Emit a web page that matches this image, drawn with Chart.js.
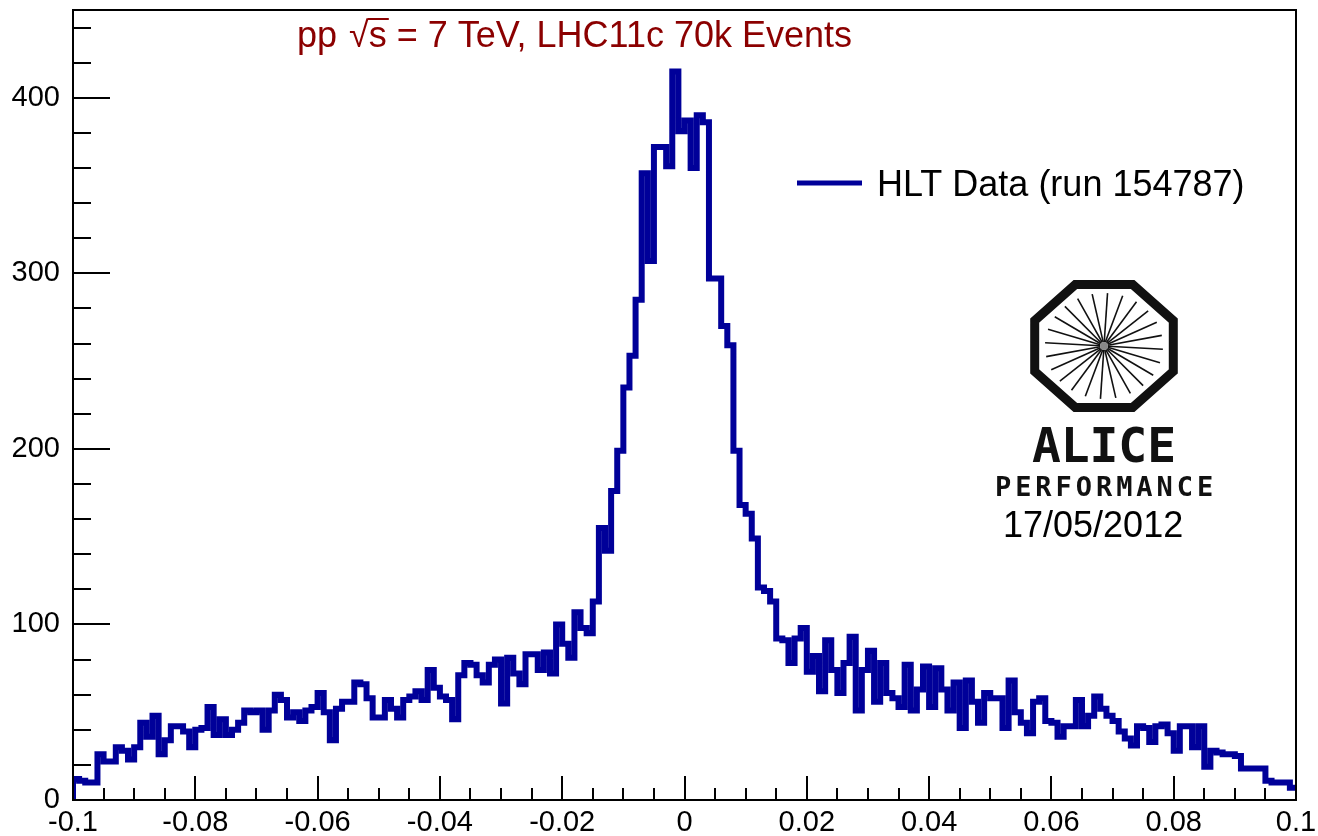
<!DOCTYPE html>
<html>
<head>
<meta charset="utf-8">
<script src="https://cdn.jsdelivr.net/npm/chart.js@4.4.1/dist/chart.umd.min.js"></script>
<style>
  html, body { margin: 0; padding: 0; background: #fff; }
  canvas { display: block; }
</style>
</head>
<body>
<canvas id="hltChart" width="1318" height="836"></canvas>
<script>
// histogram range, 200 bins of 0.001
var xRange = [-0.1, 0.1];
var yRange = [0, 450];

// entries per bin
var counts = [
  12, 11, 10, 10, 26, 22, 22, 30, 28, 23,
  30, 44, 36, 48, 26, 34, 42, 42, 39, 30,
  40, 41, 53, 37, 46, 37, 40, 44, 51, 50,
  51, 40, 51, 60, 57, 47, 50, 45, 51, 53,
  61, 50, 34, 52, 56, 56, 67, 66, 58, 47,
  47, 57, 52, 47, 57, 59, 62, 57, 74, 64,
  59, 57, 46, 71, 78, 77, 71, 67, 77, 80,
  55, 81, 72, 66, 83, 83, 74, 84, 72, 100,
  89, 81, 107, 98, 95, 113, 155, 142, 176, 199,
  235, 253, 285, 357, 307, 372, 372, 361, 415, 381,
  387, 360, 390, 386, 297, 297, 270, 259, 199, 168,
  163, 149, 121, 119, 113, 92, 91, 78, 92, 98,
  73, 82, 62, 91, 74, 61, 78, 93, 51, 74,
  85, 56, 78, 61, 58, 53, 77, 51, 63, 76,
  53, 75, 63, 51, 67, 41, 68, 56, 44, 61,
  58, 58, 41, 68, 50, 44, 38, 56, 58, 45,
  44, 36, 42, 42, 57, 42, 48, 59, 52, 48,
  45, 39, 35, 31, 42, 41, 33, 42, 43, 38,
  28, 42, 42, 30, 42, 19, 28, 27, 26, 26,
  25, 18, 18, 18, 18, 11, 10, 10, 10, 7
];

var xTickLabels = [-0.1, -0.08, -0.06, -0.04, -0.02, 0, 0.02, 0.04, 0.06, 0.08, 0.1];
var yTickLabels = [0, 100, 200, 300, 400];

var seriesName = "HLT Data (run 154787)";
var lineColor = "#000099";
var titleColor = "#8b0000";
var fontFamily = '"Liberation Sans", Arial, sans-serif';

// build the step outline: one point per bin low edge
var binWidth = (xRange[1] - xRange[0]) / counts.length;
var histPoints = [{ x: xRange[0], y: 0 }];
counts.forEach(function (c, i) {
  histPoints.push({ x: xRange[0] + i * binWidth, y: c });
});
histPoints.push({ x: xRange[1], y: counts[counts.length - 1] });

function strokeLine(ctx, x1, y1, x2, y2) {
  ctx.beginPath();
  ctx.moveTo(x1, y1);
  ctx.lineTo(x2, y2);
  ctx.stroke();
}

//-------------------------
//- frame, ticks, labels  -
//-------------------------
var histDecor = {
  id: 'histDecor',
  afterDraw: function (chart) {
    var ctx = chart.ctx;
    var area = chart.chartArea;
    var xs = chart.scales.x, ys = chart.scales.y;
    ctx.save();

    // frame
    ctx.strokeStyle = '#000';
    ctx.lineWidth = 2;
    ctx.strokeRect(area.left, area.top, area.right - area.left, area.bottom - area.top);

    // x ticks (inside), major every 0.02, minor every 0.005
    ctx.lineWidth = 2;
    for (var k = 0; k <= 40; k++) {
      var px = Math.round(xs.getPixelForValue(xRange[0] + k * 0.005));
      var len = (k % 4 === 0) ? 24 : 12;
      strokeLine(ctx, px, area.bottom, px, area.bottom - len);
    }
    // y ticks (inside), major every 100, minor every 20
    for (var v = 0; v <= yRange[1]; v += 20) {
      var py = Math.round(ys.getPixelForValue(v));
      var ylen = (v % 100 === 0) ? 37 : 18;
      strokeLine(ctx, area.left, py, area.left + ylen, py);
    }

    // title
    ctx.fillStyle = titleColor;
    ctx.strokeStyle = titleColor;
    ctx.font = '36px ' + fontFamily;
    ctx.textBaseline = 'alphabetic';
    ctx.textAlign = 'left';
    var tx = 297, ty = 47;
    ctx.fillText('pp', tx, ty);
    tx += ctx.measureText('pp').width + 12;
    ctx.fillText('\u221A', tx, ty);
    tx += ctx.measureText('\u221A').width;
    var sW = ctx.measureText('s').width;
    ctx.fillText('s', tx, ty);
    ctx.lineWidth = 2;
    strokeLine(ctx, tx - 1, ty - 28, tx + sW + 2, ty - 28);
    tx += sW;
    ctx.fillText(' = 7 TeV, LHC11c 70k Events', tx, ty);

    // legend
    ctx.strokeStyle = lineColor;
    ctx.lineWidth = 5;
    strokeLine(ctx, 797, 183, 862, 183);
    ctx.fillStyle = '#000';
    ctx.font = '36px ' + fontFamily;
    ctx.fillText(chart.data.datasets[0].label, 877, 196);

    // ALICE performance logo
    var cx = 1104, cy = 346;
    ctx.strokeStyle = '#111';
    ctx.lineWidth = 9;
    ctx.beginPath();
    for (var a = 0; a < 8; a++) {
      var ang = Math.PI / 8 + a * Math.PI / 4;
      var ox = cx + 75 * Math.cos(ang), oy = cy + 66.5 * Math.sin(ang);
      if (a === 0) ctx.moveTo(ox, oy); else ctx.lineTo(ox, oy);
    }
    ctx.closePath();
    ctx.stroke();
    ctx.lineWidth = 1.6;
    for (var s = 0; s < 24; s++) {
      var sa = s * Math.PI / 12 + 0.06;
      strokeLine(ctx, cx + 4 * Math.cos(sa), cy + 4 * Math.sin(sa),
                 cx + 59 * Math.cos(sa), cy + 53 * Math.sin(sa));
    }
    ctx.fillStyle = '#888';
    ctx.beginPath();
    ctx.arc(cx, cy, 4, 0, 2 * Math.PI);
    ctx.fill();

    ctx.fillStyle = '#111';
    ctx.textAlign = 'center';
    ctx.font = 'bold 48px "DejaVu Sans Mono", monospace';
    var word = 'ALICE';
    for (var i = 0; i < word.length; i++) {
      ctx.fillText(word[i], 1032 + 28.8 * (i + 0.5), 462);
    }
    ctx.font = 'bold 27px "DejaVu Sans Mono", monospace';
    var perf = 'PERFORMANCE';
    for (var j = 0; j < perf.length; j++) {
      ctx.fillText(perf[j], 993 + 20.2 * (j + 0.5), 496);
    }
    ctx.textAlign = 'left';
    ctx.fillStyle = '#000';
    ctx.font = '36px ' + fontFamily;
    ctx.fillText('17/05/2012', 1003, 537);

    ctx.restore();
  }
};

var axisFont = { family: fontFamily, size: 29 };

var hltChart = new Chart(document.getElementById('hltChart').getContext('2d'), {
  type: 'line',
  data: {
    datasets: [{
      label: seriesName,
      data: histPoints,
      stepped: true,
      borderColor: lineColor,
      borderWidth: 6,
      borderJoinStyle: 'miter',
      pointRadius: 0,
      fill: false
    }]
  },
  options: {
    responsive: false,
    animation: false,
    devicePixelRatio: 1,
    layout: { padding: { top: 10, right: 22, bottom: 0, left: 0 } },
    plugins: {
      legend: { display: false },
      tooltip: { enabled: false }
    },
    scales: {
      x: {
        type: 'linear',
        min: xRange[0],
        max: xRange[1],
        grid: { display: false, drawTicks: false },
        border: { display: false },
        afterBuildTicks: function (s) {
          s.ticks = xTickLabels.map(function (v) { return { value: v }; });
        },
        afterFit: function (s) {
          s.height = 36;
          s.paddingLeft = 0;
          s.paddingRight = 0;
        },
        ticks: {
          autoSkip: false,
          maxRotation: 0,
          padding: 6,
          color: '#000',
          font: axisFont,
          callback: function (v) { return String(Number(Number(v).toFixed(3))); }
        }
      },
      y: {
        min: yRange[0],
        max: yRange[1],
        grid: { display: false, drawTicks: false },
        border: { display: false },
        afterBuildTicks: function (s) {
          s.ticks = yTickLabels.map(function (v) { return { value: v }; });
        },
        afterFit: function (s) {
          s.width = 73;
          s.paddingTop = 0;
          s.paddingBottom = 0;
        },
        ticks: {
          padding: 13,
          color: '#000',
          font: axisFont,
          callback: function (v) { return String(v); }
        }
      }
    }
  },
  plugins: [histDecor]
});
</script>
</body>
</html>
